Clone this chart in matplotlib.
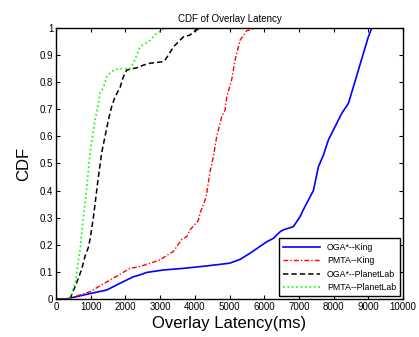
import matplotlib
matplotlib.use('Agg')
import matplotlib.pyplot as plt

plt.rcParams['font.family'] = ['Liberation Sans', 'DejaVu Sans']

# OGA*--King
oga_king_x = [0, 300, 400, 980, 1460, 1844, 2229, 2421, 2613, 3093, 3669, 4342, 5000,
              5303, 5591, 6071, 6263, 6455, 6551, 6839, 7032, 7128, 7320, 7416, 7560,
              7704, 7848, 8040, 8233, 8425, 8569, 8713, 8857, 9001, 9097, 9480]
oga_king_y = [0, 0, 0.003, 0.02, 0.033, 0.058, 0.082, 0.089, 0.098, 0.107, 0.113, 0.122, 0.132,
              0.146, 0.169, 0.211, 0.224, 0.248, 0.255, 0.267, 0.304, 0.33, 0.377, 0.40, 0.488,
              0.531, 0.587, 0.636, 0.685, 0.722, 0.783, 0.845, 0.907, 0.968, 1.0, 1.0]

# PMTA--King
pmta_king_x = [0, 250, 400, 980, 1556, 2133, 2421, 2997, 3285, 3381, 3622, 3766, 3862,
               4102, 4150, 4294, 4342, 4438, 4534, 4631, 4775, 4870, 4919, 5063, 5159,
               5303, 5495, 5784]
pmta_king_y = [0, 0, 0.003, 0.027, 0.07, 0.113, 0.12, 0.144, 0.169, 0.175, 0.22, 0.23, 0.255,
               0.29, 0.316, 0.365, 0.39, 0.47, 0.525, 0.60, 0.673, 0.697, 0.746, 0.81, 0.882,
               0.955, 0.99, 1.0]

# OGA*--PlanetLab
oga_pl_x = [400, 596, 740, 840, 932, 980, 1076, 1124, 1172, 1220, 1316, 1412, 1508, 1604,
            1700, 1844, 1940, 2037, 2325, 2517, 2709, 3093, 3141, 3237, 3381, 3573, 3669,
            3862, 3958, 4150]
oga_pl_y = [0, 0.06, 0.11, 0.16, 0.19, 0.22, 0.30, 0.35, 0.40, 0.45, 0.54, 0.60, 0.66, 0.71,
            0.746, 0.78, 0.82, 0.845, 0.853, 0.863, 0.87, 0.876, 0.882, 0.90, 0.93, 0.955, 0.967,
            0.974, 0.986, 1.0]

# PMTA--PlanetLab
pmta_pl_x = [400, 550, 600, 690, 787, 884, 980, 1076, 1124, 1220, 1270, 1364, 1460, 1600,
             1800, 2130, 2230, 2420, 2710, 2900, 3140]
pmta_pl_y = [0, 0.06, 0.10, 0.18, 0.30, 0.41, 0.54, 0.62, 0.66, 0.72, 0.76, 0.78, 0.82, 0.84,
             0.85, 0.85, 0.87, 0.93, 0.955, 0.98, 1.0]

fig = plt.figure(figsize=(4.19, 3.37), dpi=100)
ax = fig.add_axes([0.1337, 0.1128, 0.8283, 0.8041])

ax.plot(oga_king_x, oga_king_y, color='#0000ff', linestyle='-', linewidth=1.2, label='OGA*--King')
ax.plot(pmta_king_x, pmta_king_y, color='#ff0000', linestyle=(0, (3.5, 1.5, 1, 1.5)),
        linewidth=1.0, label='PMTA--King')
ax.plot(oga_pl_x, oga_pl_y, color='black', linestyle=(0, (3.5, 2)), linewidth=1.1,
        label='OGA*--PlanetLab')
ax.plot(pmta_pl_x, pmta_pl_y, color='#00ff00', linestyle=':', linewidth=1.2, label='PMTA--PlanetLab')

ax.set_xlim(0, 10000)
ax.set_ylim(0, 1)
ax.set_xticks(range(0, 10001, 1000))
ax.set_yticks([i / 10 for i in range(11)])
ax.set_yticklabels(['0', '0.1', '0.2', '0.3', '0.4', '0.5', '0.6', '0.7', '0.8', '0.9', '1'])
ax.tick_params(direction='in', top=True, right=True, labelsize=7, length=3, pad=2)
for s in ax.spines.values():
    s.set_linewidth(1.0)

ax.set_title('CDF of Overlay Latency', fontsize=7, pad=4)
ax.set_xlabel('Overlay Latency(ms)', fontsize=12, labelpad=3)
ax.set_ylabel('CDF', fontsize=12, labelpad=6)

leg = ax.legend(loc='lower right', fontsize=6.3, fancybox=False, edgecolor='black',
                framealpha=1, borderaxespad=0.3, handlelength=4.2, labelspacing=0.5,
                borderpad=0.5)
leg.get_frame().set_linewidth(1.0)

fig.savefig('out.png', dpi=100)
